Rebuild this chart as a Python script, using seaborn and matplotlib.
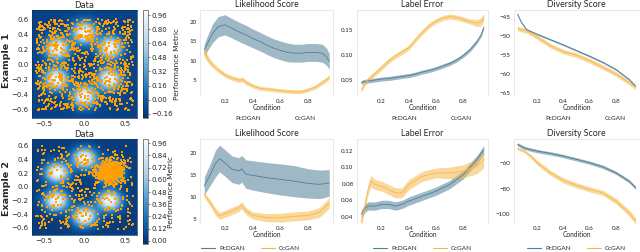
import numpy as np
import pandas as pd
import matplotlib
matplotlib.use("Agg")
import matplotlib.pyplot as plt
import seaborn as sns

sns.set_style("white")
plt.rcParams["font.family"] = ["DejaVu Sans"]

# ---------------- data ----------------
models = ["PcDGAN", "CcGAN"]
palette = {"PcDGAN": "#4f7f97", "CcGAN": "#f7b84b"}

# heatmap bump centres (hexagon) and point-cloud descriptions
bump_x = [0.0, 0.32, 0.31, 0.0, -0.35, -0.34]
bump_y = [0.42, 0.22, -0.20, -0.43, -0.20, 0.21]
bump_sigma = 0.10
heat_bg = [-0.12, 0.02]
heat_peak = [1.0, 1.0]
heat_vlim = [(-0.21, 1.02), (-0.03, 1.0)]
cbar_ticks = [[-0.16, 0.0, 0.16, 0.32, 0.48, 0.64, 0.80, 0.96],
              [0.0, 0.12, 0.24, 0.36, 0.48, 0.60, 0.72, 0.84, 0.96]]
n_uniform = [1000, 480]
cluster_n = [0, 560]
cluster_xy = (0.33, 0.22)
cluster_sd = 0.075

# Row 1 -- Likelihood
r1_like_c = [0.05, 0.08, 0.11, 0.15, 0.2, 0.25, 0.3, 0.33, 0.35, 0.4, 0.45, 0.5, 0.55,
             0.6, 0.65, 0.7, 0.75, 0.8, 0.85, 0.9, 0.93, 0.95]
r1_like_p = [12.7, 14.9, 17.0, 18.7, 19.2, 18.3, 17.4, 16.9, 16.6, 15.7, 14.9, 14.0, 13.2,
             12.6, 12.1, 11.9, 11.9, 12.1, 12.1, 11.9, 11.0, 9.8]
r1_like_pw = [1.5, 2.0, 2.4, 2.6, 2.6, 2.5, 2.5, 2.5, 2.5, 2.4, 2.4, 2.4, 2.4,
              2.4, 2.4, 2.3, 2.3, 2.3, 2.3, 2.3, 2.2, 2.0]
r1_like_g = [12.3, 10.2, 8.9, 7.6, 6.3, 5.5, 5.0, 5.1, 4.4, 3.5, 2.9, 2.7, 2.5,
             2.3, 2.1, 2.0, 2.0, 2.5, 3.2, 4.4, 5.1, 5.8]
r1_like_gw = [1.4, 0.9, 0.7, 0.6, 0.6, 0.6, 0.6, 0.6, 0.6, 0.5, 0.5, 0.5, 0.5,
              0.5, 0.5, 0.5, 0.5, 0.5, 0.5, 0.6, 0.6, 0.6]

# Row 1 -- Label error
r1_lab_c = [0.05, 0.07, 0.1, 0.15, 0.2, 0.25, 0.3, 0.35, 0.4, 0.45, 0.5, 0.55, 0.6,
            0.65, 0.7, 0.75, 0.8, 0.85, 0.9, 0.93, 0.95]
r1_lab_p = [0.045, 0.047, 0.048, 0.050, 0.052, 0.053, 0.055, 0.057, 0.059, 0.062, 0.066,
            0.069, 0.073, 0.078, 0.083, 0.090, 0.099, 0.111, 0.127, 0.140, 0.155]
r1_lab_g = [0.030, 0.040, 0.051, 0.063, 0.075, 0.088, 0.098, 0.106, 0.115, 0.131, 0.146,
            0.159, 0.168, 0.174, 0.177, 0.175, 0.171, 0.167, 0.164, 0.166, 0.176]
r1_lab_pw = [0.004] * 21
r1_lab_gw = [0.005] * 18 + [0.007, 0.008, 0.008]

# Row 1 -- Diversity
r1_div_c = [0.05, 0.08, 0.12, 0.2, 0.3, 0.4, 0.5, 0.6, 0.7, 0.8, 0.9, 0.95]
r1_div_p = [-44.3, -46.5, -48.4, -49.6, -51.0, -52.4, -53.9, -55.4, -57.0, -58.9, -61.5, -63.3]
r1_div_g = [-48.1, -48.4, -48.7, -50.4, -52.6, -54.2, -55.1, -56.6, -58.3, -60.1, -62.3, -63.6]
r1_div_pw = [0.25] * 12
r1_div_gw = [0.6] * 12

# Row 2 -- Likelihood
r2_like_c = [0.05, 0.1, 0.13, 0.16, 0.2, 0.25, 0.3, 0.32, 0.35, 0.4, 0.5, 0.6, 0.7, 0.8, 0.88, 0.95]
r2_like_p = [12.5, 15.5, 17.5, 18.7, 17.7, 16.3, 15.9, 16.4, 15.2, 14.9, 14.4, 14.0, 13.6, 13.1, 12.9, 13.2]
r2_like_pw = [2.0, 2.5, 3.0, 3.0, 3.0, 3.0, 3.0, 3.0, 3.2, 3.3, 3.4, 3.5, 3.5, 3.3, 3.2, 3.0]
r2_like_g = [10.6, 8.4, 6.8, 5.8, 6.3, 6.9, 7.6, 8.2, 6.9, 5.9, 5.4, 5.4, 5.7, 5.9, 6.6, 8.7]
r2_like_gw = [0.6, 0.7, 0.8, 0.8, 0.8, 0.8, 0.8, 0.8, 0.8, 0.8, 0.9, 1.0, 1.0, 1.0, 1.1, 1.2]

# Row 2 -- Label error
r2_lab_c = [0.05, 0.08, 0.1, 0.12, 0.15, 0.2, 0.25, 0.3, 0.35, 0.4, 0.5, 0.6, 0.7, 0.8, 0.9, 0.95]
r2_lab_p = [0.043, 0.051, 0.053, 0.053, 0.053, 0.055, 0.055, 0.053, 0.055, 0.059, 0.065,
            0.071, 0.079, 0.091, 0.109, 0.121]
r2_lab_g = [0.033, 0.057, 0.073, 0.083, 0.079, 0.077, 0.073, 0.069, 0.069, 0.079, 0.089,
            0.093, 0.093, 0.095, 0.101, 0.109]
r2_lab_pw = [0.005] * 16
r2_lab_gw = [0.005, 0.006, 0.006, 0.007, 0.006, 0.006, 0.006, 0.006, 0.006, 0.006, 0.006,
             0.006, 0.007, 0.008, 0.009, 0.010]

# Row 2 -- Diversity
r2_div_c = [0.05, 0.1, 0.15, 0.2, 0.25, 0.3, 0.35, 0.4, 0.5, 0.6, 0.7, 0.8, 0.9, 0.95]
r2_div_p = [-45.1, -47.8, -49.2, -50.4, -51.3, -52.2, -53.2, -54.3, -56.9, -59.5, -62.7, -67.4, -73.9, -79.1]
r2_div_g = [-48.5, -50.4, -54.3, -59.5, -63.5, -67.4, -70.5, -73.4, -77.3, -80.4, -83.1, -89.6, -98.8, -105.3]
r2_div_pw = [1.3] * 14
r2_div_gw = [1.0, 1.2, 1.5, 1.8, 2.0, 2.0, 2.0, 2.0, 2.0, 2.0, 2.0, 2.2, 2.4, 2.5]

panels = [
    [("Likelihood Score", r1_like_c, r1_like_p, r1_like_pw, r1_like_g, r1_like_gw, (0.9, 23.0), [5, 10, 15, 20], None),
     ("Label Error", r1_lab_c, r1_lab_p, r1_lab_pw, r1_lab_g, r1_lab_gw, (0.018, 0.19), [0.05, 0.10, 0.15], "%.2f"),
     ("Diversity Score", r1_div_c, r1_div_p, r1_div_pw, r1_div_g, r1_div_gw, (-65.9, -43.2), [-65, -60, -55, -50, -45], None)],
    [("Likelihood Score", r2_like_c, r2_like_p, r2_like_pw, r2_like_g, r2_like_gw, (4.2, 23.1), [5, 10, 15, 20], None),
     ("Label Error", r2_lab_c, r2_lab_p, r2_lab_pw, r2_lab_g, r2_lab_gw, (0.0325, 0.134), [0.04, 0.06, 0.08, 0.10, 0.12], "%.2f"),
     ("Diversity Score", r2_div_c, r2_div_p, r2_div_pw, r2_div_g, r2_div_gw, (-106.8, -40.9), [-100, -80, -60], None)],
]

# ---------------- layout ----------------
W, H = 640, 252
fig = plt.figure(figsize=(6.4, 2.52), dpi=100)


def ax_px(l, t, r, b):
    return fig.add_axes([l / W, 1 - b / H, (r - l) / W, (b - t) / H])


row_tops = [10, 139]
row_bots = [96, 223]
data_boxes = [(32, 10, 137, 118), (32, 139, 137, 234.5)]
cbar_boxes = [(143, 10, 148, 118), (143, 139, 148, 244)]
data_ylims = [(-0.72, 0.72), (-0.70, 0.70)]
col_lr = [(200, 333.4), (357.2, 487.8), (513.6, 639.5)]
example_y = [60, 188]

gx, gy = np.meshgrid(np.linspace(-0.65, 0.65, 260), np.linspace(-0.72, 0.72, 280))

for row in range(2):
    # ----- Data panel -----
    ax = ax_px(*data_boxes[row])
    field = np.zeros_like(gx)
    for bx, by in zip(bump_x, bump_y):
        field += np.exp(-((gx - bx) ** 2 + (gy - by) ** 2) / (2 * bump_sigma ** 2))
    field = heat_bg[row] + (heat_peak[row] - heat_bg[row]) * np.clip(field, 0, 1)
    vmin, vmax = heat_vlim[row]
    im = ax.imshow(field, extent=[-0.65, 0.65, -0.72, 0.72], origin="lower",
                   cmap="Blues_r", vmin=vmin, vmax=vmax, aspect="auto", interpolation="bilinear")
    rng = np.random.default_rng(7 + row)
    px = rng.uniform(-0.6, 0.6, n_uniform[row])
    py = rng.uniform(-0.62, 0.6, n_uniform[row])
    if cluster_n[row]:
        px = np.concatenate([px, rng.normal(cluster_xy[0], cluster_sd, cluster_n[row])])
        py = np.concatenate([py, rng.normal(cluster_xy[1], cluster_sd, cluster_n[row])])
    pts = pd.DataFrame({"x": px, "y": py})
    sns.scatterplot(data=pts, x="x", y="y", ax=ax, color="#ffa000", marker="s", s=0.9,
                    linewidth=0, legend=False)
    ax.set_xlim(-0.65, 0.65)
    ax.set_ylim(*data_ylims[row])
    ax.set_xticks([-0.5, 0.0, 0.5])
    ax.set_yticks([-0.6, -0.4, -0.2, 0.0, 0.2, 0.4, 0.6])
    ax.set_xlabel("")
    ax.set_ylabel("")
    ax.tick_params(labelsize=5, length=1.5, width=0.4, pad=1)
    ax.set_title("Data", fontsize=6, pad=1.5)
    for s in ax.spines.values():
        s.set_linewidth(0.5)
        s.set_color("#0b3466")

    cax = ax_px(*cbar_boxes[row])
    cb = fig.colorbar(im, cax=cax, ticks=cbar_ticks[row])
    cb.ax.set_yticklabels(["%.2f" % t if t >= 0 else "\u2212%.2f" % -t for t in cbar_ticks[row]])
    cb.ax.tick_params(labelsize=5, length=1.2, width=0.4, pad=1)
    cb.outline.set_linewidth(0.4)
    cb.set_label("Performance Metric", fontsize=5.3, labelpad=1)

    fig.text(7 / W, 1 - example_y[row] / H, "Example %d" % (row + 1), rotation=90,
             fontsize=6.8, fontweight="bold", ha="center", va="center")

    # ----- line panels -----
    for col, (title, c, p, pw, g, gw, ylim, yt, fmt) in enumerate(panels[row]):
        l, r = col_lr[col]
        ax = ax_px(l, row_tops[row], r, row_bots[row])
        recs = []
        for name, mid, w in (("PcDGAN", p, pw), ("CcGAN", g, gw)):
            for ci, mi, wi in zip(c, mid, w):
                for v in (mi - wi, mi, mi + wi):
                    recs.append((ci, v, name))
        df = pd.DataFrame(recs, columns=["Condition", "value", "model"])
        sns.lineplot(data=df, x="Condition", y="value", hue="model", hue_order=models,
                     palette=palette, errorbar=("pi", 100), estimator="mean",
                     linewidth=0.6, err_kws={"alpha": 0.55, "linewidth": 0}, ax=ax)
        ax.set_xlim(0.02, 0.98)
        ax.set_ylim(*ylim)
        ax.set_xticks([0.2, 0.4, 0.6, 0.8])
        ax.set_yticks(yt)
        if fmt:
            ax.set_yticklabels([fmt % t for t in yt])
        ax.set_ylabel("")
        ax.set_xlabel("Condition", fontsize=4.8, labelpad=0, family="Lato")
        ax.tick_params(labelsize=4.5, length=0, pad=2.5)
        for lab in ax.get_xticklabels() + ax.get_yticklabels():
            lab.set_family("Lato")
        ax.set_title(title, fontsize=6.3, pad=2, family="Lato")
        for name, s in ax.spines.items():
            s.set_linewidth(0.6)
            s.set_color("#e3e3e3")
        ax.spines["bottom"].set_visible(False)
        handles, labels = ax.get_legend_handles_labels()
        dx = -0.12 if (row == 1 and col == 0) else 0.0
        yy = -0.26 if row == 0 else -0.30
        leg = ax.legend(handles, labels, loc="center", bbox_to_anchor=(0.5 + dx, yy), ncol=2,
                        frameon=False, handlelength=2.2, columnspacing=2.6,
                        handletextpad=0.6, prop={"family": "Lato", "size": 4.6})
        for ln in leg.get_lines():
            ln.set_linewidth(0.8)
            if row == 0:
                ln.set_visible(False)

fig.savefig("out.png", dpi=100)
